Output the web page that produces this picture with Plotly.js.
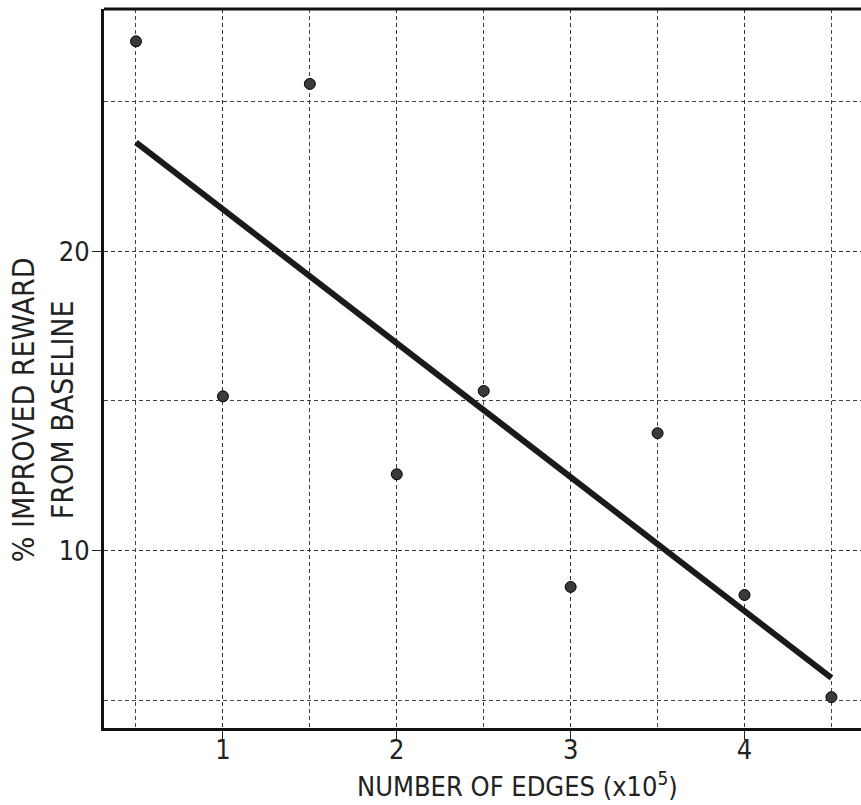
<!DOCTYPE html>
<html>
<head>
<meta charset="utf-8">
<script src="https://cdn.plot.ly/plotly-3.0.1.min.js"></script>
<style>html,body{margin:0;padding:0;background:#fff;overflow:hidden;}#chart{width:861px;height:805px;}</style>
</head>
<body>
<div id="chart"></div>
<script>
// Data
const edges = [0.5, 1, 1.5, 2, 2.5, 3, 3.5, 4, 4.5];
const improvedReward = [27.0, 15.15, 25.58, 12.55, 15.33, 8.79, 13.92, 8.52, 5.11];
const fitX = [0.5, 4.5];
const fitY = [23.63, 5.75];
const xTickVals = [1, 2, 3, 4];
const xTickText = ['1', '2', '3', '4'];
const yTickVals = [10, 20];
const yTickText = ['10', '20'];
const xTitle = 'NUMBER OF EDGES (x10<sup>5</sup>)';
const yTitle = '% IMPROVED REWARD<br>FROM BASELINE';

const fontFam = '"Liberation Sans Narrow", "DejaVu Sans Condensed", Arial, sans-serif';
const ink = '#222';

const traces = [
  {
    x: fitX, y: fitY, mode: 'lines', type: 'scatter',
    line: {color: '#1a1a1a', width: 6}, hoverinfo: 'skip', showlegend: false
  },
  {
    x: edges, y: improvedReward, mode: 'markers', type: 'scatter',
    marker: {color: '#3a3a3a', size: 11, line: {color: '#000', width: 1}},
    showlegend: false
  }
];

const gridDash = '4px,3px';

const layout = {
  width: 861, height: 805,
  margin: {l: 104, r: 0, t: 9, b: 77},
  paper_bgcolor: '#fff', plot_bgcolor: '#fff',
  font: {family: fontFam, color: ink, size: 28},
  showlegend: false,
  xaxis: {
    range: [0.316, 4.67],
    tickmode: 'array', tickvals: xTickVals, ticktext: xTickText,
    ticks: 'outside', ticklen: 9, tickwidth: 1, tickcolor: ink,
    ticklabelstandoff: -13,
    showgrid: true, gridcolor: '#333', gridwidth: 1, griddash: gridDash,
    minor: {dtick: 0.5, tick0: 0.5, showgrid: true, gridcolor: '#444', gridwidth: 1, griddash: gridDash, ticks: ''},
    showline: true, linecolor: '#111', linewidth: 3,
    zeroline: false,
    tickfont: {size: 27, family: fontFam, color: ink}
  },
  yaxis: {
    range: [4.08, 28.08],
    tickmode: 'array', tickvals: yTickVals, ticktext: yTickText,
    ticks: 'outside', ticklen: 9, tickwidth: 1, tickcolor: ink,
    ticklabelstandoff: -3,
    showgrid: true, gridcolor: '#333', gridwidth: 1, griddash: gridDash,
    minor: {dtick: 5, tick0: 0, showgrid: true, gridcolor: '#444', gridwidth: 1, griddash: gridDash, ticks: ''},
    showline: true, linecolor: '#111', linewidth: 3,
    zeroline: false,
    tickfont: {size: 27, family: fontFam, color: ink}
  },
  shapes: [
    {type: 'line', xref: 'paper', yref: 'paper', x0: 0, x1: 1, y0: 1, y1: 1, line: {color: '#111', width: 3}}
  ],
  annotations: [
    {text: xTitle, xref: 'paper', yref: 'paper', x: 0.5456, y: -0.1055,
     xanchor: 'center', yanchor: 'bottom', showarrow: false,
     font: {size: 27, family: fontFam, color: ink}},
    {text: yTitle, xref: 'paper', yref: 'paper', x: -0.0805, y: 0.442,
     xanchor: 'center', yanchor: 'middle', showarrow: false, textangle: -90,
     font: {size: 30, family: fontFam, color: ink}}
  ]
};

Plotly.newPlot('chart', traces, layout, {staticPlot: true, displayModeBar: false});
</script>
</body>
</html>
